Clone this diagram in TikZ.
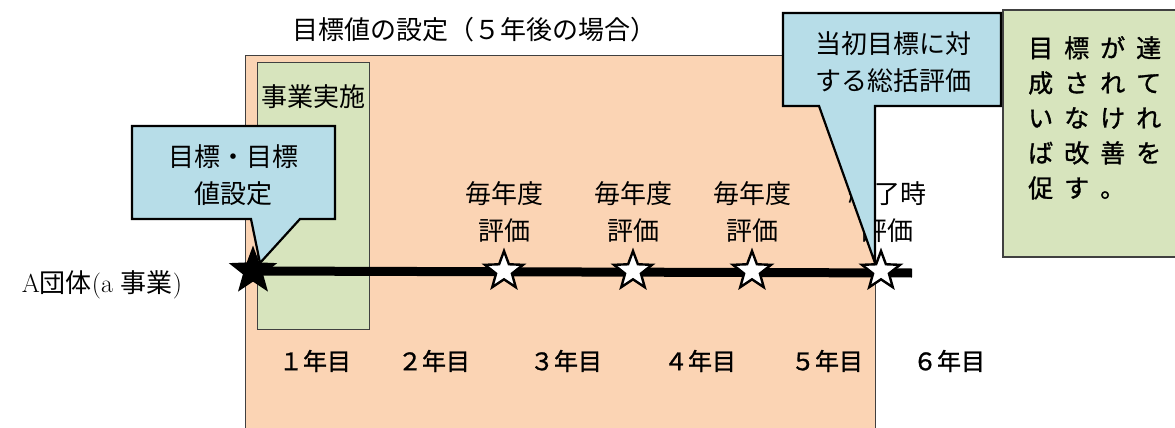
\documentclass[tikz,border=0pt]{standalone}
\usepackage{fontspec}
\newfontfamily\jp{Noto Sans CJK JP}
\newfontfamily\jpb[FakeBold=1.2]{Noto Sans CJK JP}
\usetikzlibrary{shapes.geometric}
\definecolor{planfill}{HTML}{FBD4B4}
\definecolor{implfill}{HTML}{D7E4BD}
\definecolor{callfill}{HTML}{B7DDE8}
% spread the characters of one line of the note
\def\spreadloop#1{\ifx\relax#1\else\makebox[36pt][l]{#1}\expandafter\spreadloop\fi}
\newcommand\spreadchars[1]{\spreadloop#1\relax}

\begin{document}
\begin{tikzpicture}[x=1pt, y=-1pt,
    mincho/.style={font=\jp\fontsize{26}{37}\selectfont, align=center, inner sep=0pt},
    gothic/.style={font=\jpb\fontsize{24}{30}\selectfont, inner sep=0pt},
    callout/.style={draw=black, fill=callfill, line width=2.2pt, line join=miter},
    evalstar/.style={star, star points=5, star point ratio=2.4, minimum size=40pt,
      inner sep=0pt, draw=black, fill=white, line width=2.4pt}]
    \useasboundingbox (0,0) rectangle (1175,428);
    \node[mincho] (title) at (474,30) {目標値の設定（５年後の場合）};
    \draw[fill=planfill, draw=black!75, line width=0.8pt] (245,55) rectangle (875,440);
    \draw[fill=implfill, draw=black!75, line width=0.8pt] (257,62) rectangle (369,329);
    \node[mincho] (impl) at (313,97) {事業実施};
    \node[mincho] (org) at (102,285) {{\rmfamily A}団体{\rmfamily (a }事業{\rmfamily )}};
    % callout at the start
    \coordinate (tip1) at (260,263);
    \draw[callout] (132,126) -- (335,126) -- (335,219) -- (300,219) -- (tip1)
      -- (251,219) -- (132,219) -- cycle;
    \node[mincho] (set1) at (233,175) {目標・目標\\値設定};
    % evaluations
    \node[mincho] (ev1) at (504,212) {毎年度\\評価};
    \node[mincho] (ev2) at (633,212) {毎年度\\評価};
    \node[mincho] (ev3) at (752,212) {毎年度\\評価};
    \node[mincho] (ev4) at (887,212) {終了時\\評価};
    % callout at the end
    \coordinate (tip2) at (875,263);
    \draw[callout] (783,13) -- (1001,13) -- (1001,106) -- (875,106) -- (tip2)
      -- (819,106) -- (783,106) -- cycle;
    \node[mincho] (sum1) at (893,62) {当初目標に対\\する総括評価};
    % timeline
    \coordinate (t0) at (253,271);
    \coordinate (tE) at (912,273);
    \path[draw, line width=9pt] (t0) -- (tE);
    \node[evalstar, fill=black, minimum size=44pt] (s0) at (t0) {};
    \node[evalstar] (s1) at (504,271) {};
    \node[evalstar] (s2) at (633,271) {};
    \node[evalstar] (s3) at (752,271) {};
    \node[evalstar] (s4) at (881,271) {};
    % years
    \node[gothic] (y1) at (315,361) {１年目};
    \node[gothic] (y2) at (434,361) {２年目};
    \node[gothic] (y3) at (566,361) {３年目};
    \node[gothic] (y4) at (700,361) {４年目};
    \node[gothic] (y5) at (827,361) {５年目};
    \node[gothic] (y6) at (949,361) {６年目};
    % note
    \draw[fill=implfill, draw=black!75, line width=1.2pt] (1003,10) rectangle (1185,257);
    \node[gothic, font=\jpb\fontsize{25}{35}\selectfont, align=left, anchor=north west]
      (note) at (1028,36) {\spreadchars{目標が達}\\\spreadchars{成されて}\\
      \spreadchars{いなけれ}\\\spreadchars{ば改善を}\\\spreadchars{促す。}};
  \end{tikzpicture}
\end{document}
